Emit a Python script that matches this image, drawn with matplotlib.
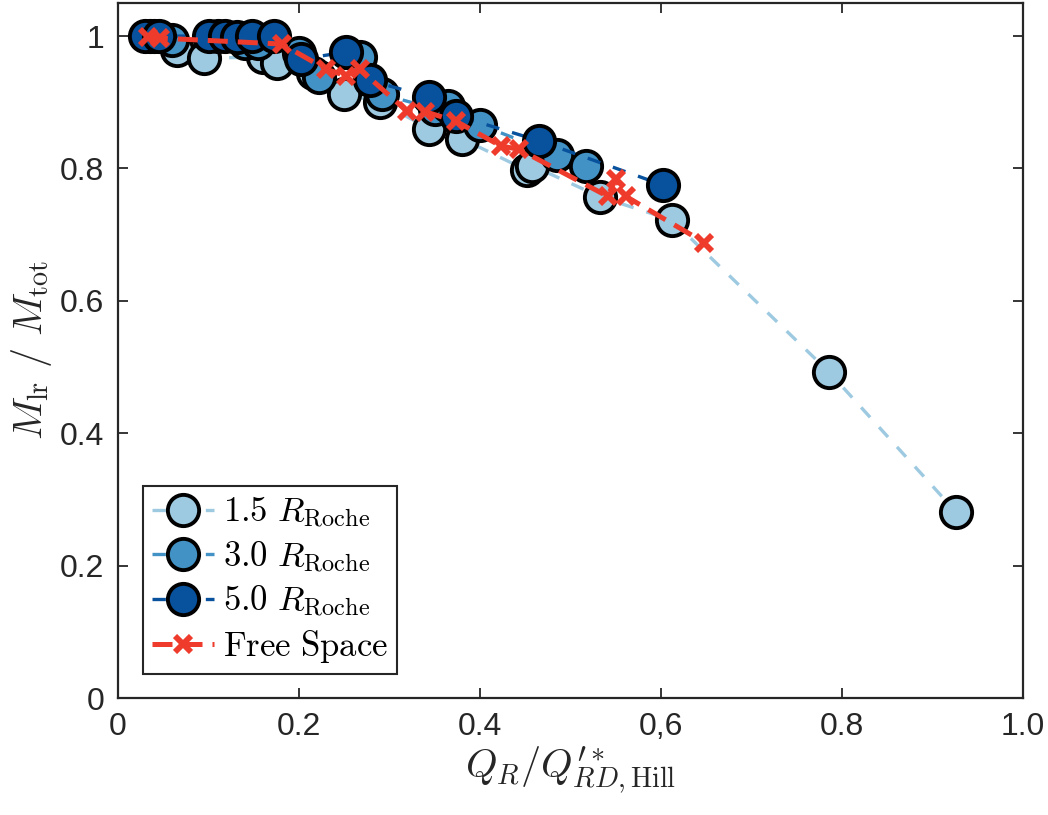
import matplotlib
matplotlib.use('Agg')
import matplotlib.pyplot as plt

plt.rcParams['mathtext.fontset'] = 'cm'
plt.rcParams['font.family'] = ['Liberation Sans', 'DejaVu Sans']

# data
x_15 = [0.04, 0.065, 0.095, 0.16, 0.176, 0.216, 0.25, 0.29, 0.344, 0.38,
        0.452, 0.458, 0.533, 0.612, 0.786, 0.926]
y_15 = [1.0, 0.979, 0.967, 0.968, 0.96, 0.945, 0.913, 0.9, 0.86, 0.845,
        0.797, 0.804, 0.757, 0.722, 0.492, 0.281]

x_30 = [0.035, 0.06, 0.11, 0.14, 0.155, 0.2, 0.222, 0.267, 0.292, 0.35,
        0.365, 0.40, 0.485, 0.517]
y_30 = [1.0, 0.994, 1.0, 0.99, 0.99, 0.975, 0.938, 0.968, 0.912, 0.89,
        0.895, 0.866, 0.821, 0.803]

x_50 = [0.03, 0.045, 0.10, 0.118, 0.132, 0.148, 0.172, 0.202, 0.252, 0.278,
        0.344, 0.374, 0.465, 0.602]
y_50 = [1.0, 1.0, 1.0, 1.0, 0.998, 1.0, 1.0, 0.965, 0.976, 0.933,
        0.908, 0.88, 0.842, 0.775]

x_free = [0.033, 0.046, 0.181, 0.23, 0.252, 0.267, 0.319, 0.339, 0.374, 0.423,
          0.443, 0.541, 0.55, 0.561, 0.648]
y_free = [0.998, 0.997, 0.988, 0.95, 0.94, 0.95, 0.887, 0.886, 0.871, 0.834,
          0.829, 0.758, 0.784, 0.758, 0.688]

xtick_vals = [0, 0.2, 0.4, 0.6, 0.8, 1.0]
xtick_labels = ['0', '0.2', '0.4', '0,6', '0.8', '1.0']
ytick_vals = [0, 0.2, 0.4, 0.6, 0.8, 1.0]
ytick_labels = ['0', '0.2', '0.4', '0.6', '0.8', '1']

c_light = '#9ecae1'
c_mid = '#4292c6'
c_dark = '#08519c'
c_red = '#ef3b2c'

fig = plt.figure(figsize=(10.48, 8.15), dpi=100)
ax = fig.add_axes([118 / 1048, 1 - 698 / 815, (1023 - 118) / 1048, (698 - 3) / 815])

circ = dict(marker='o', markersize=22.5, markeredgecolor='black', markeredgewidth=2.8,
            linestyle=(0, (4, 4)), linewidth=2.4)
ax.plot(x_15, y_15, color=c_light, markerfacecolor=c_light,
        label=r'$1.5\ R_{\rm Roche}$', **circ)
ax.plot(x_30, y_30, color=c_mid, markerfacecolor=c_mid,
        label=r'$3.0\ R_{\rm Roche}$', **circ)
ax.plot(x_50, y_50, color=c_dark, markerfacecolor=c_dark,
        label=r'$5.0\ R_{\rm Roche}$', **circ)
ax.plot(x_free, y_free, color=c_red, linestyle=(0, (4, 2)), linewidth=3.6,
        marker='x', markersize=12, markeredgewidth=4.2,
        label=r'$\rm Free\ Space$')

ax.set_xlim(0, 1.0)
ax.set_ylim(0, 1.05)
ax.set_xticks(xtick_vals)
ax.set_xticklabels(xtick_labels)
ax.set_yticks(ytick_vals)
ax.set_yticklabels(ytick_labels)
ax.tick_params(direction='in', top=True, right=True, length=7, width=1.3,
               labelsize=23, colors='#262626', pad=10)
for s in ax.spines.values():
    s.set_linewidth(1.6)
    s.set_color('#262626')

ax.set_xlabel(r'$Q_R/Q^{\prime *}_{RD,\rm Hill}$', fontsize=29, color='#262626', labelpad=2)
ax.set_ylabel(r'$M_{\rm lr}\ /\ M_{\rm tot}$', fontsize=29, color='#262626', labelpad=4)

leg = ax.legend(loc='lower left', bbox_to_anchor=(0.02, 0.025), fontsize=25,
                fancybox=False, edgecolor='#262626', framealpha=1,
                handlelength=1.8, handletextpad=0.25, labelspacing=0.25,
                borderpad=0.25, borderaxespad=0.2)
leg.get_frame().set_linewidth(1.5)

fig.savefig('out.png', dpi=100)
